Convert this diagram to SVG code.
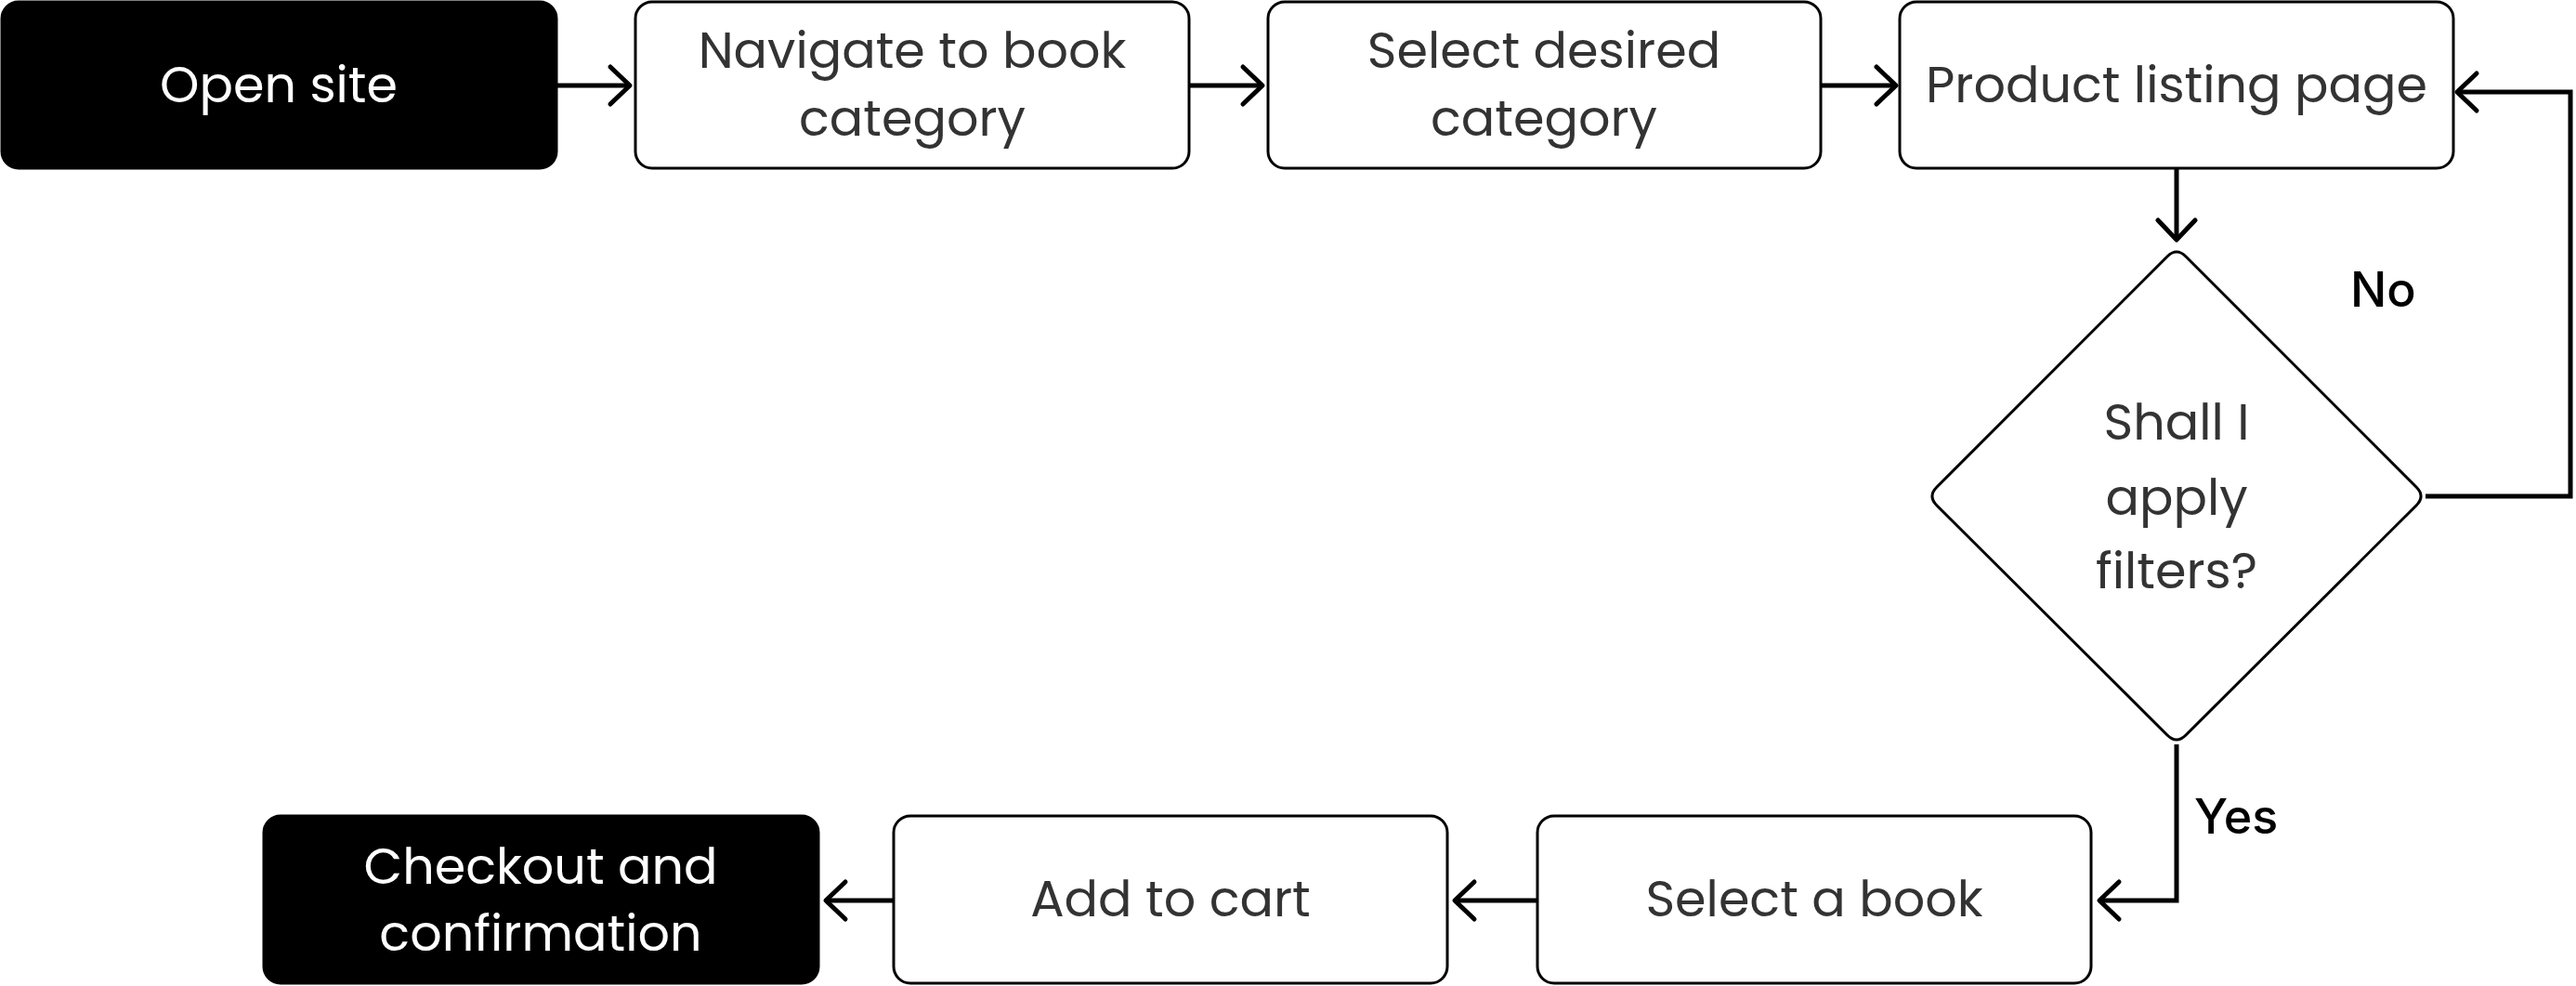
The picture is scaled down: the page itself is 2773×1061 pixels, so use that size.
<svg xmlns="http://www.w3.org/2000/svg" width="2773" height="1061" viewBox="0 0 2773 1061">
<style>
.box{fill:#fff;stroke:#000;stroke-width:3}
.dark{fill:#000;stroke:#000;stroke-width:3}
.t{font-family:"Poppins","Inter","Open Sans",sans-serif;font-size:54px;fill:#333;text-anchor:middle}
.tw{fill:#fff}
.lbl{font-family:"Inter","Liberation Sans",sans-serif;font-size:52px;font-weight:500;fill:#000}
.c{fill:none;stroke:#000;stroke-width:5;stroke-linejoin:miter}
</style>
<defs>
<marker id="arr" markerUnits="userSpaceOnUse" viewBox="0 0 28 46" markerWidth="28" markerHeight="46" refX="24" refY="23" orient="auto" overflow="visible">
<path d="M3,3 L24,23 L3,43" fill="none" stroke="#000" stroke-width="5" stroke-linecap="round" stroke-linejoin="round"/>
</marker>
</defs>
<g id="connectors">
<path class="c" d="M600,92 L678,92" marker-end="url(#arr)"/>
<path class="c" d="M1280,92 L1359,92" marker-end="url(#arr)"/>
<path class="c" d="M1960,92 L2041,92" marker-end="url(#arr)"/>
<path class="c" d="M2343,182 L2343,258" marker-end="url(#arr)"/>
<path class="c" d="M2611,534 L2767,534 L2767,99 L2645,99" marker-end="url(#arr)"/>
<path class="c" d="M2343,801 L2343,969 L2260,969" marker-end="url(#arr)"/>
<path class="c" d="M1655,969 L1566,969" marker-end="url(#arr)"/>
<path class="c" d="M962,969 L889,969" marker-end="url(#arr)"/>
<text class="lbl" x="2530" y="330">No</text>
<text class="lbl" x="2362" y="897">Yes</text>
</g>
<g id="open-site">
<rect class="dark" x="2" y="2" width="597" height="179" rx="18"/>
<text class="t tw" x="300" y="110">Open site</text>
</g>
<g id="navigate">
<rect class="box" x="684" y="2" width="596" height="179" rx="18"/>
<text class="t" x="982" y="73">Navigate to book</text>
<text class="t" x="982" y="146">category</text>
</g>
<g id="select-category">
<rect class="box" x="1365" y="2" width="595" height="179" rx="18"/>
<text class="t" x="1662" y="73">Select desired</text>
<text class="t" x="1662" y="146">category</text>
</g>
<g id="product-listing">
<rect class="box" x="2045" y="2" width="596" height="179" rx="18"/>
<text class="t" x="2343" y="110">Product listing page</text>
</g>
<g id="decision">
<path class="box" d="M2333,276 Q2343,266 2353,276 L2601,524 Q2611,534 2601,544 L2353,791 Q2343,801 2333,791 L2085,544 Q2075,534 2085,524 Z"/>
<text class="t" x="2343" y="473">Shall I</text>
<text class="t" x="2343" y="554">apply</text>
<text class="t" x="2343" y="633">filters?</text>
</g>
<g id="select-book">
<rect class="box" x="1655" y="878" width="596" height="180" rx="18"/>
<text class="t" x="1953" y="986">Select a book</text>
</g>
<g id="add-to-cart">
<rect class="box" x="962" y="878" width="596" height="180" rx="18"/>
<text class="t" x="1260" y="986">Add to cart</text>
</g>
<g id="checkout">
<rect class="dark" x="284" y="878" width="597" height="180" rx="18"/>
<text class="t tw" x="582" y="951">Checkout and</text>
<text class="t tw" x="582" y="1023">confirmation</text>
</g>
</svg>
